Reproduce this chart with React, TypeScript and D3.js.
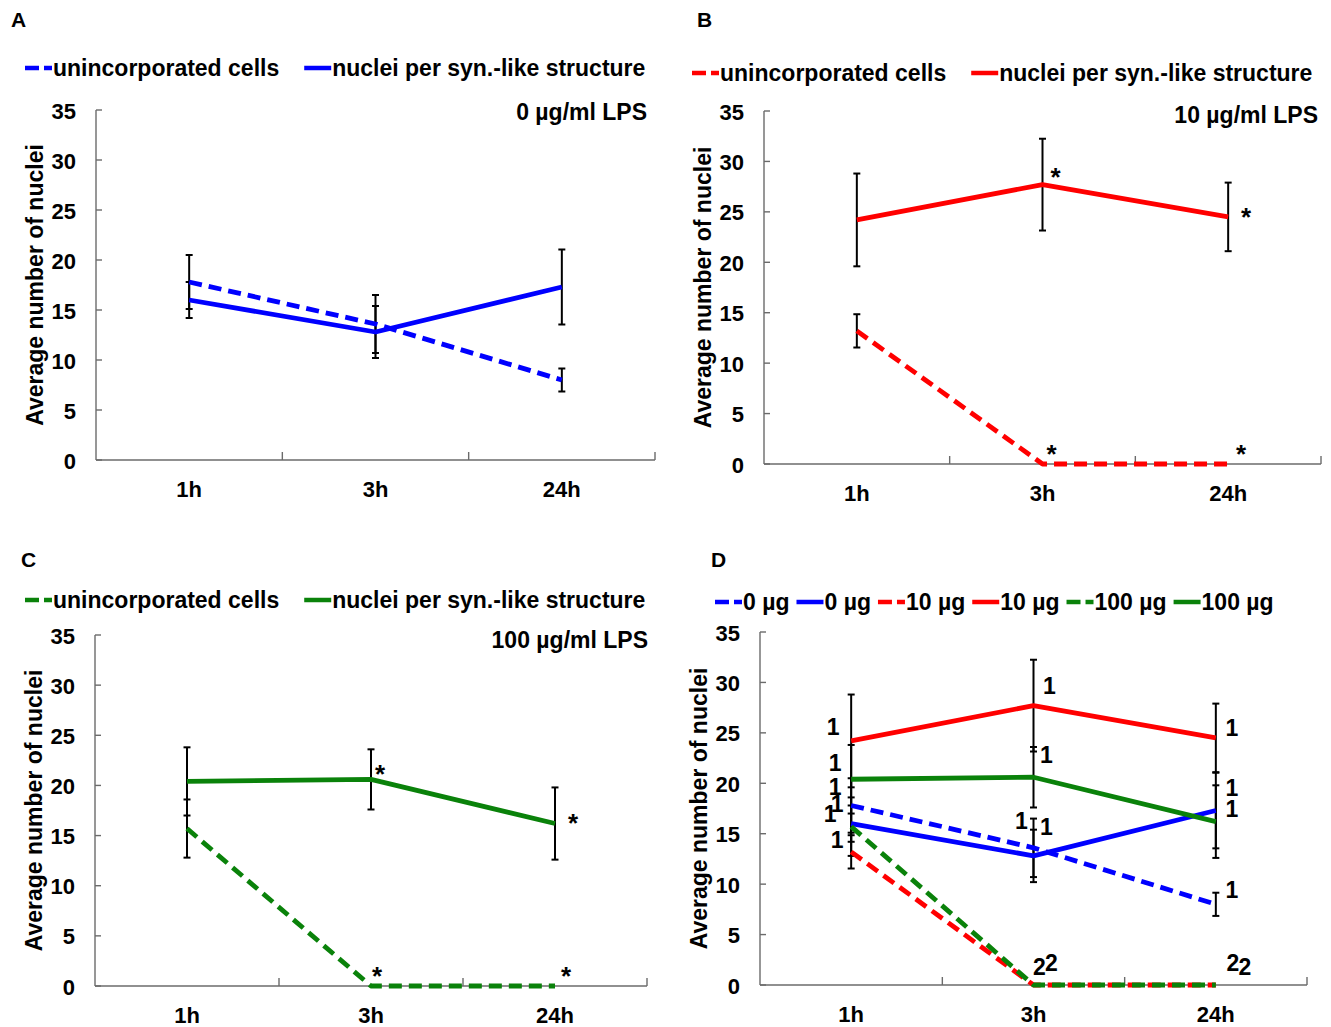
import React from "react";
import * as d3 from "d3";

// ---------- data ----------
const times = ["1h", "3h", "24h"];
const yTicks = [0, 5, 10, 15, 20, 25, 30, 35];

const unincorporated0 = [17.8, 13.6, 8.0];
const unincorporated0Err = [2.7, 2.9, 1.15];
const nuclei0 = [16.0, 12.8, 17.3];
const nuclei0Err = [1.8, 2.6, 3.75];

const unincorporated10 = [13.2, 0, 0];
const unincorporated10Err = [1.65, 0, 0];
const nuclei10 = [24.2, 27.7, 24.5];
const nuclei10Err = [4.6, 4.55, 3.4];

const unincorporated100 = [15.7, 0, 0];
const unincorporated100Err = [2.9, 0, 0];
const nuclei100 = [20.4, 20.6, 16.2];
const nuclei100Err = [3.4, 3.0, 3.6];

const legendLabels = ["unincorporated cells", "nuclei per syn.-like structure"];
const doseLabels = ["0 µg", "0 µg", "10 µg", "10 µg", "100 µg", "100 µg"];
const conditionLabels = ["0 µg/ml LPS", "10 µg/ml LPS", "100 µg/ml LPS"];

// significance marks: [time index, value at mark centre]
const starsB = [
  [1, 29.1],
  [2, 25.1],
  [1, 1.6],
  [2, 1.6],
];
const starsC = [
  [1, 21.7],
  [2, 16.9],
  [1, 1.6],
  [2, 1.6],
];
// panel D labels: [time index, value, text]
const labelsD: [number, number, string][] = [
  [0, 25.6, "1"],
  [0, 22.0, "1"],
  [0, 19.6, "1"],
  [0, 17.9, "1"],
  [0, 17.0, "1"],
  [0, 14.4, "1"],
  [1, 29.6, "1"],
  [1, 22.8, "1"],
  [1, 16.25, "1"],
  [1, 15.7, "1"],
  [2, 25.5, "1"],
  [2, 19.5, "1"],
  [2, 17.5, "1"],
  [2, 9.4, "1"],
  [1, 1.8, "2"],
  [1, 2.2, "2"],
  [2, 2.2, "2"],
  [2, 1.8, "2"],
];

// ---------- styles ----------
const FONT = '"Liberation Sans", Arial, Helvetica, sans-serif';
const BLUE = "#0000ff";
const RED = "#ff0000";
const GREEN = "#0a820a";
const DASH = "13,7";
const AXIS = "#6b6b6b";

let ctx: CanvasRenderingContext2D | null = null;
function textWidth(s: string, size: number) {
  if (!ctx) ctx = document.createElement("canvas").getContext("2d");
  if (!ctx) return s.length * size * 0.55;
  ctx.font = `bold ${size}px ${FONT}`;
  return ctx.measureText(s).width;
}

type Series = { values: number[]; errs: number[]; color: string; dashed: boolean };
type LegendItem = { text: string; color: string; dashed: boolean };

type PanelCfg = {
  letter: string;
  letterX: number;
  letterY: number;
  x0: number;
  x1: number;
  yZero: number;
  yTop: number;
  legendX: number;
  legendY: number;
  legendGap: number;
  legend: LegendItem[];
  condition?: string;
  conditionX?: number;
  conditionY?: number;
  series: Series[];
  stars?: number[][];
  starDx?: number[];
  labels?: [number, number, string][];
  labelDx?: number[];
};

function Panel({ cfg }: { cfg: PanelCfg }) {
  const x = d3.scaleBand<string>().domain(times).range([cfg.x0, cfg.x1]);
  const y = d3.scaleLinear().domain([0, 35]).range([cfg.yZero, cfg.yTop]);
  const cx = (i: number) => (x(times[i]) as number) + x.bandwidth() / 2;
  const line = d3
    .line<number>()
    .x((_, i) => cx(i))
    .y((d) => y(d));

  // legend layout
  let lx = cfg.legendX;
  const legendEls = cfg.legend.map((it, k) => {
    const sx = lx;
    const tw = textWidth(it.text, 23);
    lx = sx + 28 + tw + cfg.legendGap;
    return (
      <g key={k}>
        {it.dashed ? (
          <>
            <line x1={sx} x2={sx + 14} y1={cfg.legendY} y2={cfg.legendY} stroke={it.color} strokeWidth={4.5} />
            <line x1={sx + 19} x2={sx + 27} y1={cfg.legendY} y2={cfg.legendY} stroke={it.color} strokeWidth={4.5} />
          </>
        ) : (
          <line x1={sx} x2={sx + 27} y1={cfg.legendY} y2={cfg.legendY} stroke={it.color} strokeWidth={4.5} />
        )}
        <text x={sx + 28} y={cfg.legendY + 8} fontSize={23} fontWeight="bold" fontFamily={FONT}>
          {it.text}
        </text>
      </g>
    );
  });

  const bounds = [...times.map((t) => x(t) as number), cfg.x1];

  return (
    <g>
      <text x={cfg.letterX} y={cfg.letterY} fontSize={21} fontWeight="bold" fontFamily={FONT}>
        {cfg.letter}
      </text>
      {legendEls}
      {cfg.condition && (
        <text
          x={cfg.conditionX}
          y={cfg.conditionY}
          textAnchor="end"
          fontSize={23}
          fontWeight="bold"
          fontFamily={FONT}
        >
          {cfg.condition}
        </text>
      )}
      {/* axes */}
      <line x1={cfg.x0} x2={cfg.x0} y1={cfg.yZero} y2={cfg.yTop} stroke={AXIS} strokeWidth={1.4} />
      <line x1={cfg.x0} x2={cfg.x1} y1={cfg.yZero} y2={cfg.yZero} stroke={AXIS} strokeWidth={1.4} />
      {yTicks.map((t) => (
        <g key={t}>
          <line x1={cfg.x0} x2={cfg.x0 + 6} y1={y(t)} y2={y(t)} stroke={AXIS} strokeWidth={1.4} />
          <text
            x={cfg.x0 - 20}
            y={y(t) + 1}
            textAnchor="end"
            dominantBaseline="central"
            fontSize={22}
            fontWeight="bold"
            fontFamily={FONT}
          >
            {t}
          </text>
        </g>
      ))}
      {bounds.slice(1).map((b, i) => (
        <line key={i} x1={b} x2={b} y1={cfg.yZero} y2={cfg.yZero - 8} stroke={AXIS} strokeWidth={1.4} />
      ))}
      {times.map((t, i) => (
        <text
          key={t}
          x={cx(i)}
          y={cfg.yZero + 37}
          textAnchor="middle"
          fontSize={22}
          fontWeight="bold"
          fontFamily={FONT}
        >
          {t}
        </text>
      ))}
      <text
        transform={`translate(${cfg.x0 - 61},${(cfg.yZero + cfg.yTop) / 2}) rotate(-90)`}
        textAnchor="middle"
        dominantBaseline="central"
        fontSize={23}
        fontWeight="bold"
        fontFamily={FONT}
      >
        Average number of nuclei
      </text>
      {/* error bars */}
      {cfg.series.map((s, si) =>
        s.values.map((v, i) =>
          s.errs[i] > 0 ? (
            <g key={`e${si}-${i}`} stroke="#000" strokeWidth={2}>
              <line x1={cx(i)} x2={cx(i)} y1={y(v - s.errs[i])} y2={y(v + s.errs[i])} />
              <line x1={cx(i) - 3.5} x2={cx(i) + 3.5} y1={y(v - s.errs[i])} y2={y(v - s.errs[i])} />
              <line x1={cx(i) - 3.5} x2={cx(i) + 3.5} y1={y(v + s.errs[i])} y2={y(v + s.errs[i])} />
            </g>
          ) : null
        )
      )}
      {/* lines */}
      {cfg.series.map((s, si) => (
        <path
          key={`l${si}`}
          d={line(s.values) || ""}
          fill="none"
          stroke={s.color}
          strokeWidth={4.8}
          strokeDasharray={s.dashed ? DASH : undefined}
          strokeLinejoin="round"
        />
      ))}
      {cfg.stars &&
        cfg.stars.map((st, k) => (
          <text
            key={`s${k}`}
            x={cx(st[0]) + (cfg.starDx ? cfg.starDx[k] : 10)}
            y={y(st[1]) + 15}
            textAnchor="middle"
            fontSize={26}
            fontWeight="bold"
            fontFamily={FONT}
          >
            *
          </text>
        ))}
      {cfg.labels &&
        cfg.labels.map((lb, k) => (
          <text
            key={`lb${k}`}
            x={cx(lb[0]) + (cfg.labelDx ? cfg.labelDx[k] : 12)}
            y={y(lb[1])}
            textAnchor="middle"
            dominantBaseline="central"
            fontSize={23}
            fontWeight="bold"
            fontFamily={FONT}
          >
            {lb[2]}
          </text>
        ))}
    </g>
  );
}

export default function App() {
  const sA: Series[] = [
    { values: unincorporated0, errs: unincorporated0Err, color: BLUE, dashed: true },
    { values: nuclei0, errs: nuclei0Err, color: BLUE, dashed: false },
  ];
  const sB: Series[] = [
    { values: unincorporated10, errs: unincorporated10Err, color: RED, dashed: true },
    { values: nuclei10, errs: nuclei10Err, color: RED, dashed: false },
  ];
  const sC: Series[] = [
    { values: unincorporated100, errs: unincorporated100Err, color: GREEN, dashed: true },
    { values: nuclei100, errs: nuclei100Err, color: GREEN, dashed: false },
  ];
  const sD: Series[] = [...sA, ...sB, ...sC];
  const colors = [BLUE, BLUE, RED, RED, GREEN, GREEN];

  const panels: PanelCfg[] = [
    {
      letter: "A",
      letterX: 11,
      letterY: 27,
      x0: 96,
      x1: 655,
      yZero: 460,
      yTop: 110,
      legendX: 25,
      legendY: 68,
      legendGap: 25,
      legend: legendLabels.map((t, i) => ({ text: t, color: BLUE, dashed: i === 0 })),
      condition: conditionLabels[0],
      conditionX: 647,
      conditionY: 120,
      series: sA,
    },
    {
      letter: "B",
      letterX: 697,
      letterY: 27,
      x0: 764,
      x1: 1321,
      yZero: 464,
      yTop: 111,
      legendX: 692,
      legendY: 73,
      legendGap: 25,
      legend: legendLabels.map((t, i) => ({ text: t, color: RED, dashed: i === 0 })),
      condition: conditionLabels[1],
      conditionX: 1318,
      conditionY: 123,
      series: sB,
      stars: starsB,
      starDx: [13, 18, 9, 13],
    },
    {
      letter: "C",
      letterX: 21,
      letterY: 567,
      x0: 95,
      x1: 647,
      yZero: 986,
      yTop: 635,
      legendX: 25,
      legendY: 600,
      legendGap: 25,
      legend: legendLabels.map((t, i) => ({ text: t, color: GREEN, dashed: i === 0 })),
      condition: conditionLabels[2],
      conditionX: 648,
      conditionY: 648,
      series: sC,
      stars: starsC,
      starDx: [9, 18, 6, 11],
    },
    {
      letter: "D",
      letterX: 711,
      letterY: 567,
      x0: 760,
      x1: 1307,
      yZero: 985,
      yTop: 632,
      legendX: 715,
      legendY: 602,
      legendGap: 7,
      legend: doseLabels.map((t, i) => ({ text: t, color: colors[i], dashed: i % 2 === 0 })),
      series: sD,
      labels: labelsD,
      labelDx: [-18, -16, -16, -14, -21, -14, 16, 13, -12, 13, 16, 16, 16, 16, 6, 18, 17, 29],
    },
  ];

  return (
    <svg width={1331} height={1027} viewBox="0 0 1331 1027" style={{ display: "block", position: "absolute", left: 0, top: 0, background: "#fff" }}>
      <rect width={1331} height={1027} fill="#fff" />
      {panels.map((p) => (
        <Panel key={p.letter} cfg={p} />
      ))}
    </svg>
  );
}
